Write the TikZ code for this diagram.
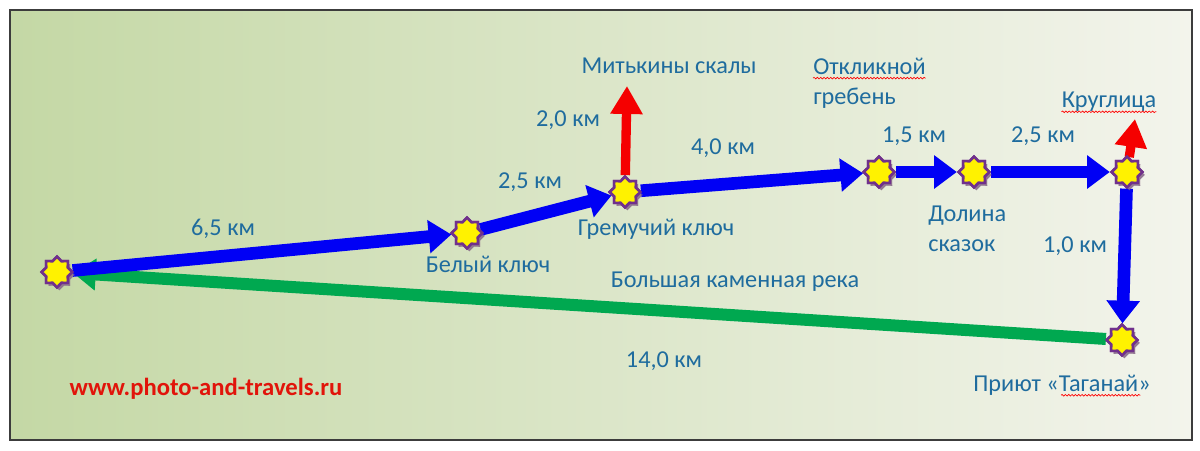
\documentclass[tikz,border=0pt]{standalone}
\usepackage{fontspec}
\setmainfont{Carlito}
\usetikzlibrary{arrows.meta,shapes.geometric,shadows,decorations.pathmorphing}
\definecolor{lbl}{RGB}{31,108,158}
\definecolor{bgL}{RGB}{196,216,165}
\definecolor{bgR}{RGB}{243,244,236}
\definecolor{starline}{RGB}{112,48,140}
\definecolor{shad}{RGB}{140,110,140}
\definecolor{routeblue}{RGB}{0,0,245}
\definecolor{routegreen}{RGB}{0,168,80}
\definecolor{routered}{RGB}{245,0,0}
\definecolor{urlred}{RGB}{225,20,10}
\tikzset{
  wp/.style={star, star points=8, star point ratio=1.32, minimum size=23pt, inner sep=0pt,
    fill=yellow, draw=starline, line width=1.9pt,
    drop shadow={shadow xshift=1.8pt, shadow yshift=-2.2pt, fill=shad, opacity=0.7}},
  lab/.style={text=lbl, font=\fontsize{18.2}{21}\selectfont, inner sep=0pt},
  bluearrow/.style={draw=routeblue, line width=9.5pt, -{Triangle[length=17pt,width=24pt]}},
  greenarrow/.style={draw=routegreen, line width=9pt, -{Triangle[length=17pt,width=23pt]}},
  redarrow/.style={draw=routered, line width=7pt, -{Triangle[length=21pt,width=23pt]}},
  spell/.style={draw=red, line width=0.5pt, decorate, decoration={snake, amplitude=0.6pt, segment length=2.5pt}},
  frame/.style={draw={rgb,255:red,60;green,60;blue,60}, line width=1.2pt}
}
\begin{document}
\begin{tikzpicture}[x=0.75pt,y=-0.75pt]
\useasboundingbox (0,0) rectangle (1200,450);
\fill[white] (0,0) rectangle (1200,450);
\shade[left color=bgL, right color=bgR] (10,10) rectangle (1192,440);
\draw[frame] (10,10) rectangle (1192,440);

% waypoints
\node[wp] (s) at (57,272) {};
\node[wp] (b) at (467,233) {};
\node[wp] (g) at (625,192) {};
\node[wp] (o) at (879,172) {};
\node[wp] (d) at (974,172) {};
\node[wp] (k) at (1127,172) {};
\node[wp] (t) at (1122,340) {};
\coordinate (mit) at (627,86);
\coordinate (kru) at (1135,119);

% connectors
\draw[greenarrow] (t) -- (s);
\draw[bluearrow] (s) -- (b);
\draw[bluearrow] (b) -- (g);
\draw[bluearrow] (g) -- (o);
\draw[bluearrow] (o) -- (d);
\draw[bluearrow] (d) -- (k);
\draw[bluearrow] (k) -- (t);
\draw[redarrow] (g) -- (mit);
\draw[redarrow] (k) -- (kru);

% redraw stars on top
\node[wp] at (57,272) {};
\node[wp] at (467,233) {};
\node[wp] at (625,192) {};
\node[wp] at (879,172) {};
\node[wp] at (974,172) {};
\node[wp] at (1127,172) {};
\node[wp] at (1122,340) {};

% labels
\node[lab] (l65) at (223,229) {6,5 км};
\node[lab] (lbel) at (488,264) {Белый ключ};
\node[lab] (l25a) at (530,182) {2,5 км};
\node[lab] (l20) at (568,120) {2,0 км};
\node[lab] (lmit) at (669,66) {Митькины скалы};
\node[lab] (l40) at (723,148) {4,0 км};
\node[lab] (lgrem) at (656,229) {Гремучий ключ};
\node[lab] (lbkr) at (735,282) {Большая каменная река};
\node[lab] (l140) at (664,361) {14,0 км};
\node[lab, anchor=west] (lotk) at (813,66) {Откликной};
\node[lab, anchor=west] (lgreb) at (813,98) {гребень};
\node[lab] (l15) at (914,136) {1,5 км};
\node[lab] (l25b) at (1043,136) {2,5 км};
\node[lab] (lkru) at (1109,102) {Круглица};
\node[lab, anchor=west] (ldol) at (928,216) {Долина};
\node[lab, anchor=west] (lsk) at (928,246) {сказок};
\node[lab] (l10) at (1075,246) {1,0 км};
\node[lab] (lpri) at (1062,385) {Приют «Таганай»};
\node[text=urlred, font=\bfseries\fontsize{18.5}{21}\selectfont, inner sep=0pt] (url) at (206,389) {www.photo-and-travels.ru};

% spell-check underlines
\draw[spell] ([yshift=-3pt]lotk.base west) -- ([yshift=-3pt]lotk.base east);
\draw[spell] ([yshift=-3pt]lkru.base west) -- ([yshift=-3pt]lkru.base east);
\draw[spell] ([xshift=66pt,yshift=-3pt]lpri.base west) -- ([xshift=-8pt,yshift=-3pt]lpri.base east);
\end{tikzpicture}
\end{document}
